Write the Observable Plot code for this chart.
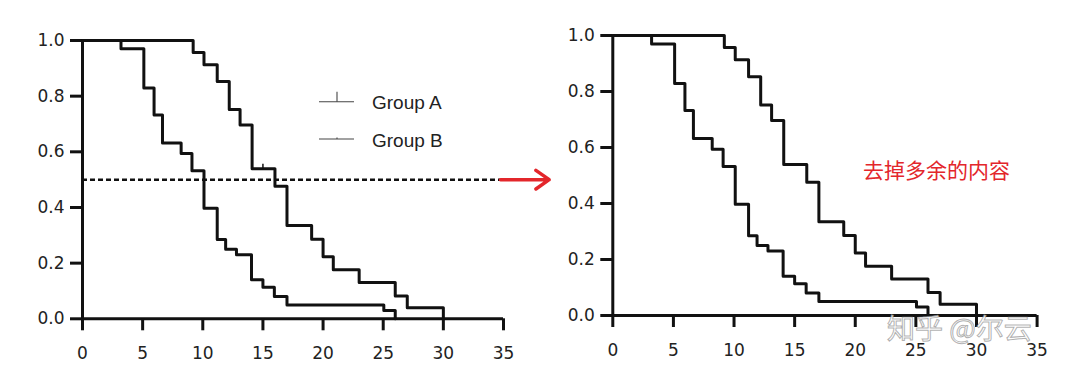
<!DOCTYPE html>
<html>
<head>
<meta charset="utf-8">
<script src="https://cdn.jsdelivr.net/npm/d3@7"></script>
<script src="https://cdn.jsdelivr.net/npm/@observablehq/plot@0.6"></script>
<style>
  html, body { margin: 0; padding: 0; background: #fff; }
  #root { position: relative; width: 1080px; height: 374px; overflow: hidden; background: #fff; }
  .abs { position: absolute; }
  #note { font-family: "Noto Sans CJK SC", sans-serif; font-size: 21px; color: #e3262b; line-height: 1; white-space: nowrap; }
  #mark { font-family: "Noto Sans CJK SC", sans-serif; font-size: 28px; color: rgba(255,255,255,0.85); -webkit-text-stroke: 1px rgba(110,110,110,0.55); line-height: 1; height: 28px; white-space: nowrap; }
</style>
</head>
<body>
<div id="root"></div>
<script>
// ---- data ----
const xTicks = [0, 5, 10, 15, 20, 25, 30, 35];
const yTicks = [0, 0.2, 0.4, 0.6, 0.8, 1.0];

const groupNames = ["Group A", "Group B"];

const timeA = [0, 9.2, 10.1, 11.2, 12.2, 13.1, 14.1, 16.0, 17.0, 19.05, 20.0, 20.85, 23.0, 26.0, 27.0, 30.0];
const survA = [1, 0.957, 0.913, 0.853, 0.752, 0.696, 0.539, 0.476, 0.335, 0.286, 0.223, 0.176, 0.13, 0.082, 0.04, 0];

const timeB = [0, 3.2, 5.1, 5.95, 6.65, 8.2, 9.1, 10.1, 11.2, 11.9, 12.8, 14.05, 15.0, 15.95, 17.0, 25.05, 26.0];
const survB = [1, 0.97, 0.829, 0.732, 0.632, 0.594, 0.532, 0.397, 0.285, 0.25, 0.23, 0.14, 0.113, 0.08, 0.05, 0.03, 0];

const censorA = [{t: 15, s: 0.539}];
const medianLine = [{y: 0.5, x1: 0, x2: 34.75}];
const arrowData = [{x1: 34.75, x2: 38.8, y: 0.5}];

const noteText = "去掉多余的内容";
const watermarkText = "知乎 @尔云";

// ---- build ----
const A = timeA.map((t, i) => ({t, s: survA[i]}));
const B = timeB.map((t, i) => ({t, s: survB[i]}));

function panel(opts) {
  const marks = [
    Plot.ruleY([0], {strokeWidth: 3, stroke: "#111"}),
    Plot.ruleX([0], {strokeWidth: 3, stroke: "#111"}),
    Plot.axisX({ticks: xTicks, tickSize: 12, tickPadding: 16, strokeWidth: 3, stroke: "#111",
      fontSize: 17, fill: "#222", tickFormat: d => String(d), label: null}),
    Plot.axisY({ticks: yTicks, tickSize: 12, tickPadding: 6, strokeWidth: 3, stroke: "#111",
      fontSize: 17, fill: "#222", tickFormat: d3.format(".1f"), label: null}),
    Plot.line(B, {x: "t", y: "s", curve: "step-after", strokeWidth: 3, stroke: "#111"}),
    Plot.line(A, {x: "t", y: "s", curve: "step-after", strokeWidth: 3, stroke: "#111"}),
    ...(opts.extra || [])
  ];
  return Plot.plot({
    width: opts.width,
    height: 374,
    marginLeft: opts.ml, marginRight: opts.mr, marginTop: opts.mt, marginBottom: opts.mb,
    x: {domain: [0, 35], label: null},
    y: {domain: [0, 1], label: null},
    style: {background: "transparent", overflow: "visible", fontFamily: "DejaVu Sans, sans-serif", color: "#222"},
    marks
  });
}

const root = document.getElementById("root");

const right = panel({width: 540, ml: 72.3, mr: 43.4, mt: 35, mb: 59});
right.classList.add("abs");
right.style.left = "540px"; right.style.top = "0px";
root.appendChild(right);

const left = panel({
  width: 560, ml: 82, mr: 57, mt: 40, mb: 55.7,
  extra: [
    Plot.ruleX(censorA, {x: "t", y1: "s", y2: d => d.s + 0.016, strokeWidth: 1.5, stroke: "#111"}),
    Plot.ruleY(medianLine, {y: "y", x1: "x1", x2: "x2", strokeWidth: 2.5, stroke: "#111", strokeDasharray: "5,3"}),
    Plot.arrow(arrowData, {x1: "x1", x2: "x2", y1: "y", y2: "y", stroke: "#e3262b", strokeWidth: 3.5, headLength: 12, headAngle: 70, bend: 0})
  ]
});
left.classList.add("abs");
left.style.left = "0px"; left.style.top = "0px";
root.appendChild(left);

// legend
const leg = d3.create("svg").attr("width", 160).attr("height", 80)
  .attr("class", "abs").style("left", "310px").style("top", "82px").style("overflow", "visible");
const rowsY = [19.7, 57];
groupNames.forEach((name, i) => {
  const g = leg.append("g").attr("transform", `translate(0,${rowsY[i]})`);
  g.append("line").attr("x1", 9).attr("x2", 44).attr("y1", 0).attr("y2", 0)
    .attr("stroke", "#444").attr("stroke-width", 1.1);
  g.append("line").attr("x1", 27).attr("x2", 27).attr("y1", 0).attr("y2", i === 0 ? -10 : -1.5)
    .attr("stroke", "#444").attr("stroke-width", 1.1);
  g.append("text").attr("x", 62).attr("y", 7.5).text(name)
    .attr("font-family", "Liberation Sans, Arial, sans-serif").attr("font-size", 19).attr("fill", "#222");
});
root.appendChild(leg.node());

const note = document.createElement("div");
note.id = "note"; note.className = "abs"; note.textContent = noteText;
note.style.left = "863px"; note.style.top = "159px";
root.appendChild(note);

const wm = document.createElement("div");
wm.id = "mark"; wm.className = "abs"; wm.textContent = watermarkText;
wm.style.left = "887px"; wm.style.top = "313px";
root.appendChild(wm);
</script>
</body>
</html>
